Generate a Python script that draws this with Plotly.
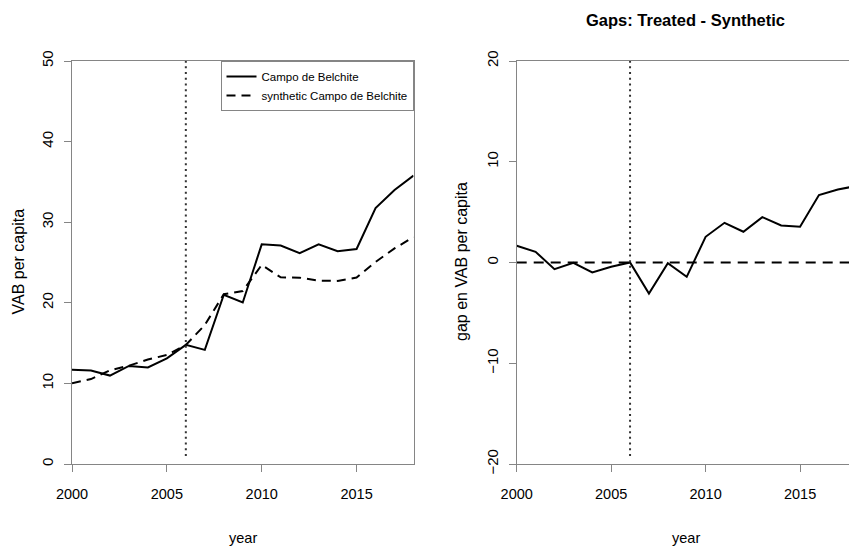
import plotly.graph_objects as go

# Gross value added (VAB) per capita, Campo de Belchite vs. its synthetic control
years = list(range(2000, 2019))
treated = [11.68, 11.60, 10.97, 12.17, 11.97, 13.10, 14.78, 14.16, 21.00, 20.04,
           27.25, 27.10, 26.17, 27.25, 26.40, 26.67, 31.76, 34.00, 35.78]
synthetic = [10.02, 10.54, 11.63, 12.20, 12.96, 13.53, 14.78, 17.24, 21.07, 21.46,
             24.70, 23.16, 23.12, 22.75, 22.72, 23.13, 25.07, 26.75, 28.16]
gap = [1.66, 1.06, -0.66, -0.03, -0.99, -0.43, 0.00, -3.08, -0.07, -1.42,
       2.55, 3.94, 3.05, 4.50, 3.68, 3.54, 6.69, 7.25, 7.60]
treatment_year = 2006

x_ticks = [2000, 2005, 2010, 2015]
y_ticks_left = [0, 10, 20, 30, 40, 50]
y_ticks_right = [-20, -10, 0, 10, 20]

W, H = 849, 548
FONT = "Liberation Sans, Arial, sans-serif"
GREY = "#858585"

fig = go.Figure()

fig.add_trace(go.Scatter(x=years, y=treated, mode="lines", name="Campo de Belchite",
                         line=dict(color="black", width=2), xaxis="x", yaxis="y"))
fig.add_trace(go.Scatter(x=years, y=synthetic, mode="lines", name="synthetic Campo de Belchite",
                         line=dict(color="black", width=2, dash="9px,6px"), xaxis="x", yaxis="y"))
fig.add_trace(go.Scatter(x=years, y=gap, mode="lines", showlegend=False,
                         line=dict(color="black", width=2), xaxis="x2", yaxis="y2"))

# zero reference line on the gap panel
fig.add_shape(type="line", xref="x2", yref="y2", x0=years[0], x1=years[-1], y0=0, y1=0,
              line=dict(color="black", width=2, dash="10px,7px"), layer="below")
# treatment year markers
fig.add_shape(type="line", xref="x", yref="y", x0=treatment_year, x1=treatment_year,
              y0=1, y1=50, line=dict(color="#333333", width=2, dash="2px,3.7px"))
fig.add_shape(type="line", xref="x2", yref="y2", x0=treatment_year, x1=treatment_year,
              y0=-19.2, y1=20, line=dict(color="#333333", width=2, dash="2px,3.7px"))

L1, R1 = 72 / W, 413.5 / W
L2, R2 = 516.7 / W, 1.0
B, T = (H - 464) / H, (H - 61) / H

xcommon = dict(tickvals=x_ticks, ticks="outside", ticklen=7, tickcolor=GREY, tickwidth=1,
               showline=True, linecolor=GREY, linewidth=1, mirror=True, showgrid=False,
               zeroline=False, automargin=False, ticklabelstandoff=10,
               tickfont=dict(family=FONT, size=14.5, color="black"))
ycommon = dict(ticks="outside", ticklen=7, tickcolor=GREY, tickwidth=1, showline=True,
               linecolor=GREY, linewidth=1, showgrid=False, zeroline=False, tickangle=-90,
               automargin=False, ticklabelstandoff=5,
               tickfont=dict(family=FONT, size=15, color="black"))

fig.update_layout(
    width=W, height=H, margin=dict(l=0, r=0, t=0, b=0, autoexpand=False),
    paper_bgcolor="white", plot_bgcolor="white",
    xaxis=dict(domain=[L1, R1], range=[2000, 2018], anchor="y", **xcommon),
    yaxis=dict(domain=[B, T], range=[0, 50], anchor="x", tickvals=y_ticks_left,
               mirror=True, **ycommon),
    xaxis2=dict(domain=[L2, R2], range=[2000, 2017.59], anchor="y2", **xcommon),
    yaxis2=dict(domain=[B, T], range=[-20, 20], anchor="x2", tickvals=y_ticks_right,
                mirror=False, **ycommon),
    showlegend=True,
    legend=dict(x=R1, xanchor="right", y=T, yanchor="top", bgcolor="white",
                bordercolor=GREY, borderwidth=1, itemwidth=30,
                font=dict(family=FONT, size=11.5, color="black"),
                tracegroupgap=0),
)

annotations = [
    dict(text="<b>Gaps: Treated - Synthetic</b>", x=685 / W, y=1 - 20 / H, xref="paper",
         yref="paper", showarrow=False, font=dict(family=FONT, size=16.5, color="black"),
         xanchor="center", yanchor="middle"),
    dict(text="year", x=(L1 + R1) / 2, y=1 - 538 / H, xref="paper", yref="paper",
         showarrow=False, xanchor="center", yanchor="middle",
         font=dict(family=FONT, size=14.5, color="black")),
    dict(text="year", x=686 / W, y=1 - 538 / H, xref="paper", yref="paper",
         showarrow=False, xanchor="center", yanchor="middle",
         font=dict(family=FONT, size=14.5, color="black")),
    dict(text="VAB per capita", x=17.5 / W, y=1 - 262 / H, xref="paper", yref="paper",
         showarrow=False, textangle=-90, xanchor="center", yanchor="middle",
         font=dict(family=FONT, size=16, color="black")),
    dict(text="gap en VAB per capita", x=461 / W, y=1 - 262 / H, xref="paper", yref="paper",
         showarrow=False, textangle=-90, xanchor="center", yanchor="middle",
         font=dict(family=FONT, size=16, color="black")),
]
fig.update_layout(annotations=annotations)

fig.write_html("out.html")
